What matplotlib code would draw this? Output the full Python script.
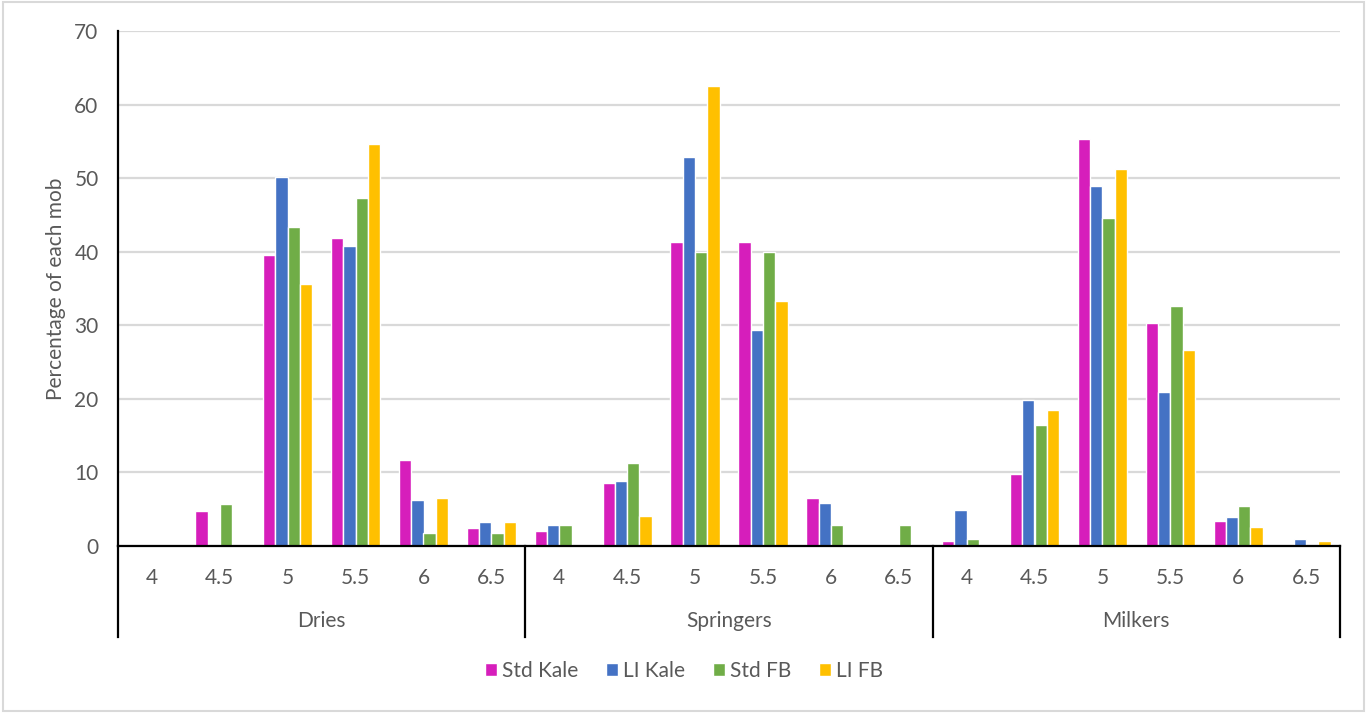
import matplotlib as mpl
mpl.use('Agg')
import matplotlib.pyplot as plt
import numpy as np
from matplotlib.patches import Rectangle

plt.rcParams['font.family'] = ['Lato', 'DejaVu Sans']

groups = ['Dries', 'Springers', 'Milkers']
levels = ['4', '4.5', '5', '5.5', '6', '6.5']

series = ['Std Kale', 'LI Kale', 'Std FB', 'LI FB']
colors = ['#D61EBB', '#4472C4', '#70AD47', '#FFC000']

# percentage of each mob per level, Dries | Springers | Milkers
std_kale = [0, 4.7, 39.6, 41.9, 11.7, 2.4,
            2.0, 8.6, 41.3, 41.3, 6.5, 0,
            0.7, 9.8, 55.3, 30.3, 3.4, 0]
li_kale = [0, 0, 50.1, 40.8, 6.2, 3.2,
           2.9, 8.8, 52.9, 29.4, 5.9, 0,
           4.9, 19.9, 49.0, 20.9, 3.9, 0.9]
std_fb = [0, 5.7, 43.4, 47.3, 1.8, 1.8,
          2.8, 11.3, 40.0, 40.0, 2.8, 2.8,
          0.9, 16.4, 44.6, 32.6, 5.4, 0]
li_fb = [0, 0, 35.6, 54.7, 6.5, 3.2,
         0, 4.1, 62.5, 33.3, 0, 0,
         0, 18.5, 51.2, 26.6, 2.6, 0.7]

values = [std_kale, li_kale, std_fb, li_fb]
grey = '#595959'
fs = 15

fig = plt.figure(figsize=(13.67, 7.13), dpi=100)
ax = fig.add_axes([118 / 1367, 1 - 546 / 713, 1222 / 1367, 515 / 713])

x = np.arange(len(groups) * len(levels))
pitch = 0.181
for i, (name, vals, c) in enumerate(zip(series, values, colors)):
    ax.bar(x + (i - 1.5) * pitch, vals, width=pitch, color=c,
           edgecolor='white', linewidth=1.0, label=name, zorder=3)

ax.set_xlim(-0.5, len(x) - 0.5)
ax.set_ylim(0, 70)
ax.set_yticks(np.arange(0, 71, 10))
ax.grid(axis='y', color='#d9d9d9', linewidth=1.6, zorder=0)
ax.tick_params(axis='y', length=0, pad=14, labelsize=fs, labelcolor=grey)
ax.set_xticks([])
for s in ['top', 'right']:
    ax.spines[s].set_visible(False)
for s in ['left', 'bottom']:
    ax.spines[s].set_color('black')
    ax.spines[s].set_linewidth(1.6)
    ax.spines[s].set_zorder(4)

ax.set_ylabel('Percentage of each mob', fontsize=fs, color=grey, labelpad=6)

# two-level category axis
trans = ax.get_xaxis_transform()
for g, name in enumerate(groups):
    for k, lev in enumerate(levels):
        ax.text(g * len(levels) + k, -32 / 515, lev, transform=trans,
                ha='center', va='center', fontsize=fs, color=grey)
    ax.text(g * len(levels) + (len(levels) - 1) / 2, -75 / 515, name,
            transform=trans, ha='center', va='center', fontsize=fs, color=grey)
for b in range(len(groups) + 1):
    ax.plot([b * len(levels) - 0.5] * 2, [0, -91 / 515], transform=trans,
            color='black', linewidth=1.6, clip_on=False)

fig.legend(loc='center', bbox_to_anchor=(684 / 1367, 1 - 671 / 713), ncol=4,
           frameon=False, fontsize=fs, labelcolor=grey, handlelength=0.6,
           handleheight=0.6, handletextpad=0.25, columnspacing=1.3)

fig.patches.append(Rectangle((0.002, 0.003), 0.996, 0.994, transform=fig.transFigure,
                             fill=False, edgecolor='#d9d9d9', linewidth=1.5))

fig.savefig('out.png', dpi=100)
